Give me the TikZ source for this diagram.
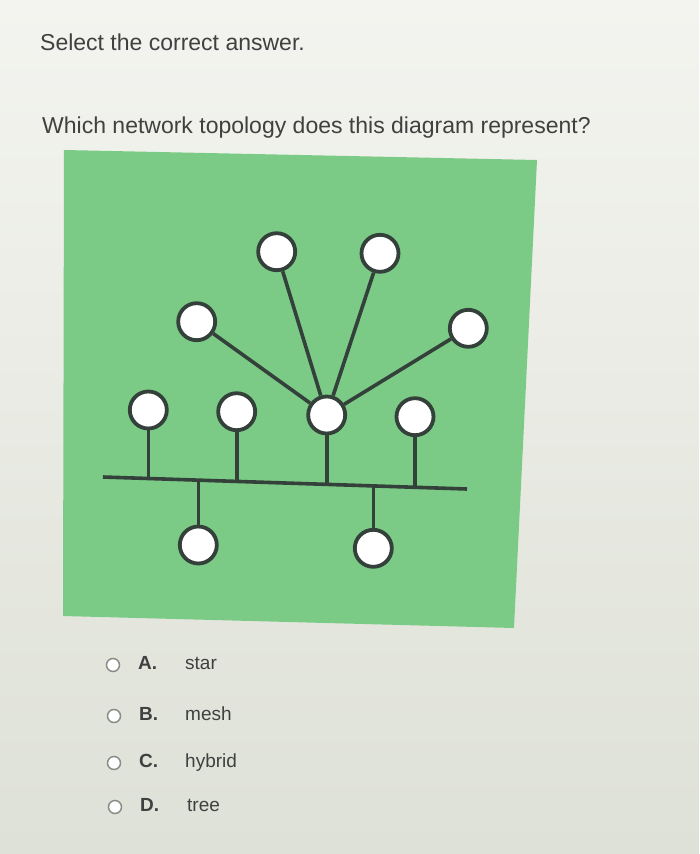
\documentclass[tikz,border=0pt]{standalone}
\usepackage{fontspec}
\setmainfont{Liberation Sans}
\definecolor{papertop}{HTML}{F3F4EF}
\definecolor{paperbot}{HTML}{DEE1D7}
\definecolor{panel}{HTML}{7BCB87}
\definecolor{wire}{HTML}{34403A}
\definecolor{ink}{HTML}{404040}
\definecolor{radio}{HTML}{8A8C86}
\tikzset{
  pc/.style={circle, draw=wire, line width=3.8pt, fill=white, inner sep=0pt, minimum size=37pt},
  link/.style={draw=wire, line width=3.6pt},
  radiobtn/.style={circle, draw=radio, line width=1.5pt, fill=white, inner sep=0pt, minimum size=13pt},
  qtext/.style={anchor=base west, text=ink, font=\fontsize{23}{27}\selectfont, inner sep=0pt},
  optletter/.style={anchor=mid west, text=ink, font=\fontsize{19}{22}\selectfont\bfseries, inner sep=0pt},
  opttext/.style={anchor=mid west, text=ink, font=\fontsize{19}{22}\selectfont, inner sep=0pt}
}
\begin{document}
\begin{tikzpicture}[x=1pt,y=-1pt]
\useasboundingbox (0,0) rectangle (699,854);
\shade[top color=papertop, bottom color=paperbot] (0,0) rectangle (699,854);
% question
\node[qtext] (q1) at (40,50) {Select the correct answer.};
\node[qtext] (q2) at (42,133) {Which network topology does this diagram represent?};
% panel
\fill[panel] (64,150) -- (537,160) -- (514,628) -- (63,616) -- cycle;
% bus
\coordinate (busL) at (103,477);
\coordinate (busR) at (467,489);
\coordinate (b1) at (148.3,478.8);
\coordinate (b2) at (236.7,481.7);
\coordinate (b3) at (326.7,484.7);
\coordinate (b4) at (415,487.6);
\coordinate (b5) at (198.3,480.4);
\coordinate (b6) at (373.3,486.2);
% nodes
\node[pc] (t1) at (276.7,251.7) {};
\node[pc] (t2) at (380,253.3) {};
\node[pc] (ml) at (196.7,321.7) {};
\node[pc] (mr) at (468.3,328.3) {};
\node[pc] (r1) at (148.3,410) {};
\node[pc] (r2) at (236.7,411.7) {};
\node[pc] (hub) at (326.7,415) {};
\node[pc] (r4) at (415,416.7) {};
\node[pc] (d1) at (198.3,545) {};
\node[pc] (d2) at (373.3,548.3) {};
% links
\draw[link] (busL) -- (busR);
\draw[link] (r1) -- (b1);
\draw[link] (r2) -- (b2);
\draw[link] (hub) -- (b3);
\draw[link] (r4) -- (b4);
\draw[link] (d1) -- (b5);
\draw[link] (d2) -- (b6);
\draw[link] (hub) -- (t1);
\draw[link] (hub) -- (t2);
\draw[link] (hub) -- (ml);
\draw[link] (hub) -- (mr);
% options
\node[radiobtn] (ra) at (113,665) {};
\node[optletter] (la) at (138,667) {A.};
\node[opttext] (ta) at (185,667) {star};
\node[radiobtn] (rb) at (114,716) {};
\node[optletter] (lb) at (139,718) {B.};
\node[opttext] (tb) at (185,718) {mesh};
\node[radiobtn] (rc) at (114,763) {};
\node[optletter] (lc) at (139,765) {C.};
\node[opttext] (tc) at (185,765) {hybrid};
\node[radiobtn] (rd) at (115,807) {};
\node[optletter] (ld) at (140,809) {D.};
\node[opttext] (td) at (187,809) {tree};
\end{tikzpicture}
\end{document}
